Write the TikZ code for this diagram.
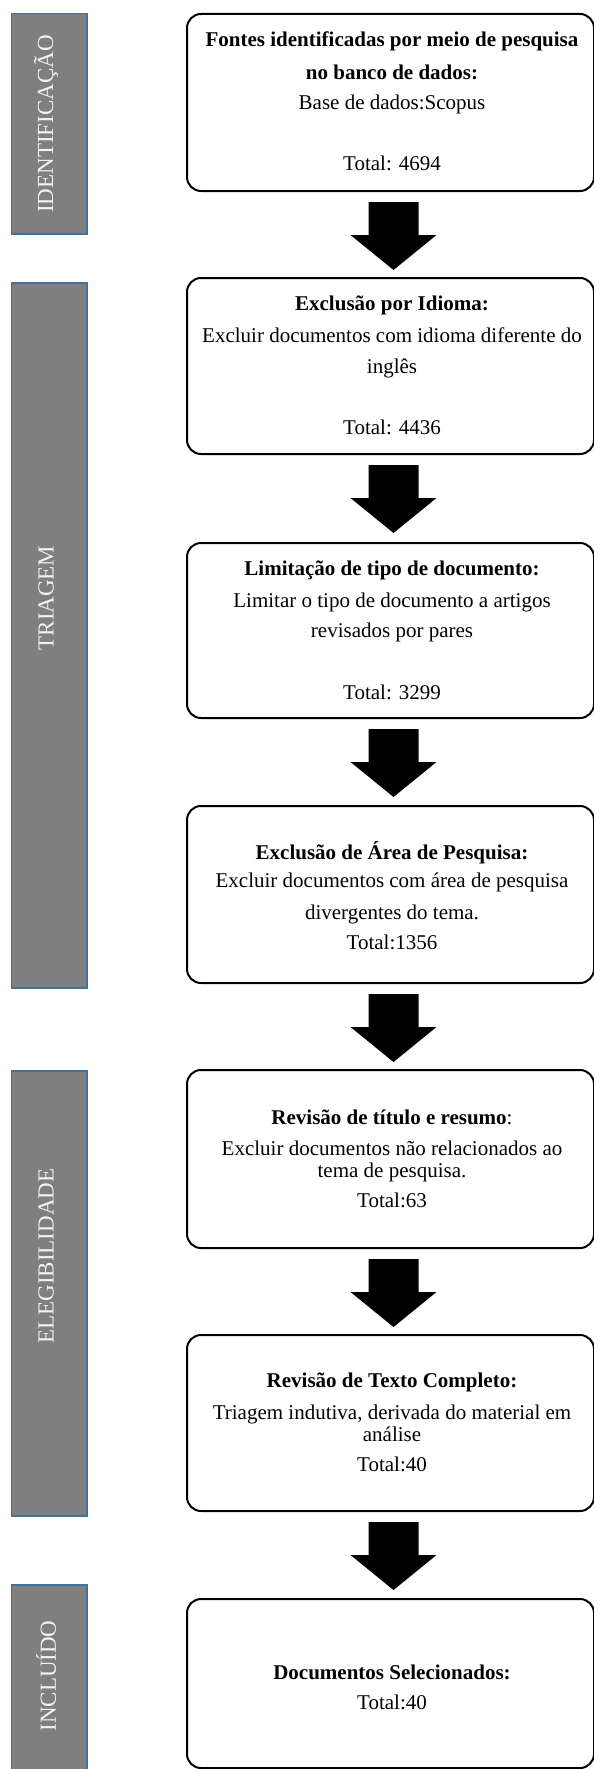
\documentclass[tikz,border=0pt]{standalone}
\usepackage{fontspec}
\setmainfont{Liberation Serif}
\usetikzlibrary{calc}
\definecolor{bargray}{RGB}{127,127,127}
\definecolor{barblue}{RGB}{65,113,156}
\definecolor{barwhite}{RGB}{242,242,242}
\begin{document}
\begin{tikzpicture}[x=1pt,y=-1pt,
  stage/.style={draw=barblue, line width=1.5pt, fill=bargray, anchor=north west, inner sep=0pt, minimum width=75.5pt},
  stagelabel/.style={text=barwhite, rotate=90, font=\fontsize{23}{27}\selectfont, inner sep=0pt},
  box/.style={draw=black, line width=2pt, rounded corners=14pt, anchor=north west, inner sep=0pt, minimum width=407pt, fill=white},
  ln/.style={anchor=base, inner sep=0pt, font=\fontsize{21}{25}\selectfont},
  bln/.style={anchor=base, inner sep=0pt, font=\fontsize{21}{25}\selectfont\bfseries},
  blockarrow/.style={fill=black}]
\useasboundingbox (0,0) rectangle (594,1769);

% stage bars
\node[stage, minimum height=220pt] (s1) at (10.75,13) {};
\node[stage, minimum height=705pt] (s2) at (10.75,282) {};
\node[stage, minimum height=445pt] (s3) at (10.75,1070) {};
\node[stage, minimum height=200pt] (s4) at (10.75,1584) {};
\node[stagelabel] (l1) at (46,124) {IDENTIFICAÇÃO};
\node[stagelabel] (l2) at (46,598) {TRIAGEM};
\node[stagelabel] (l3) at (46,1256) {ELEGIBILIDADE};
\node[stagelabel] (l4) at (46,1676) {INCLUÍDO};

% boxes
\node[box, minimum height=177pt] (b1) at (186,13) {};
\node[box, minimum height=176pt] (b2) at (186,277) {};
\node[box, minimum height=175pt] (b3) at (186,542) {};
\node[box, minimum height=177pt] (b4) at (186,805) {};
\node[box, minimum height=178pt] (b5) at (186,1069) {};
\node[box, minimum height=176pt] (b6) at (186,1334) {};
\node[box, minimum height=169pt] (b7) at (186,1598) {};

% block arrows
\foreach \u in {b1,b2,b3,b4,b5,b6}
  \fill[blockarrow] ($(\u.south)+(-22,10)$) -- ++(50,0) -- ++(0,33) -- ++(18,0)
     -- ++(-43,35) -- ++(-43,-35) -- ++(18,0) -- cycle;

% box 1
\node[bln] (t1a) at (392,47) {Fontes identificadas por meio de pesquisa};
\node[bln] (t1b) at (392,79) {no banco de dados:};
\node[ln]  (t1c) at (392,109) {Base de dados:Scopus};
\node[ln]  (t1d) at (392,170) {Total: 4694};
% box 2
\node[bln] (t2a) at (392,310) {Exclusão por Idioma:};
\node[ln]  (t2b) at (392,342) {Excluir documentos com idioma diferente do};
\node[ln]  (t2c) at (392,373) {inglês};
\node[ln]  (t2d) at (392,434) {Total: 4436};
% box 3
\node[bln] (t3a) at (392,575) {Limitação de tipo de documento:};
\node[ln]  (t3b) at (392,607) {Limitar o tipo de documento a artigos};
\node[ln]  (t3c) at (392,637) {revisados por pares};
\node[ln]  (t3d) at (392,699) {Total: 3299};
% box 4
\node[bln] (t4a) at (392,859) {Exclusão de Área de Pesquisa:};
\node[ln]  (t4b) at (392,887) {Excluir documentos com área de pesquisa};
\node[ln]  (t4c) at (392,919) {divergentes do tema.};
\node[ln]  (t4d) at (392,949) {Total:1356};
% box 5
\node[ln]  (t5a) at (392,1124) {\bfseries Revisão de título e resumo\mdseries:};
\node[ln]  (t5b) at (392,1155) {Excluir documentos não relacionados ao};
\node[ln]  (t5c) at (392,1177) {tema de pesquisa.};
\node[ln]  (t5d) at (392,1207) {Total:63};
% box 6
\node[bln] (t6a) at (392,1387) {Revisão de Texto Completo:};
\node[ln]  (t6b) at (392,1419) {Triagem indutiva, derivada do material em};
\node[ln]  (t6c) at (392,1441) {análise};
\node[ln]  (t6d) at (392,1471) {Total:40};
% box 7
\node[bln] (t7a) at (392,1679) {Documentos Selecionados:};
\node[ln]  (t7b) at (392,1709) {Total:40};
\end{tikzpicture}
\end{document}
